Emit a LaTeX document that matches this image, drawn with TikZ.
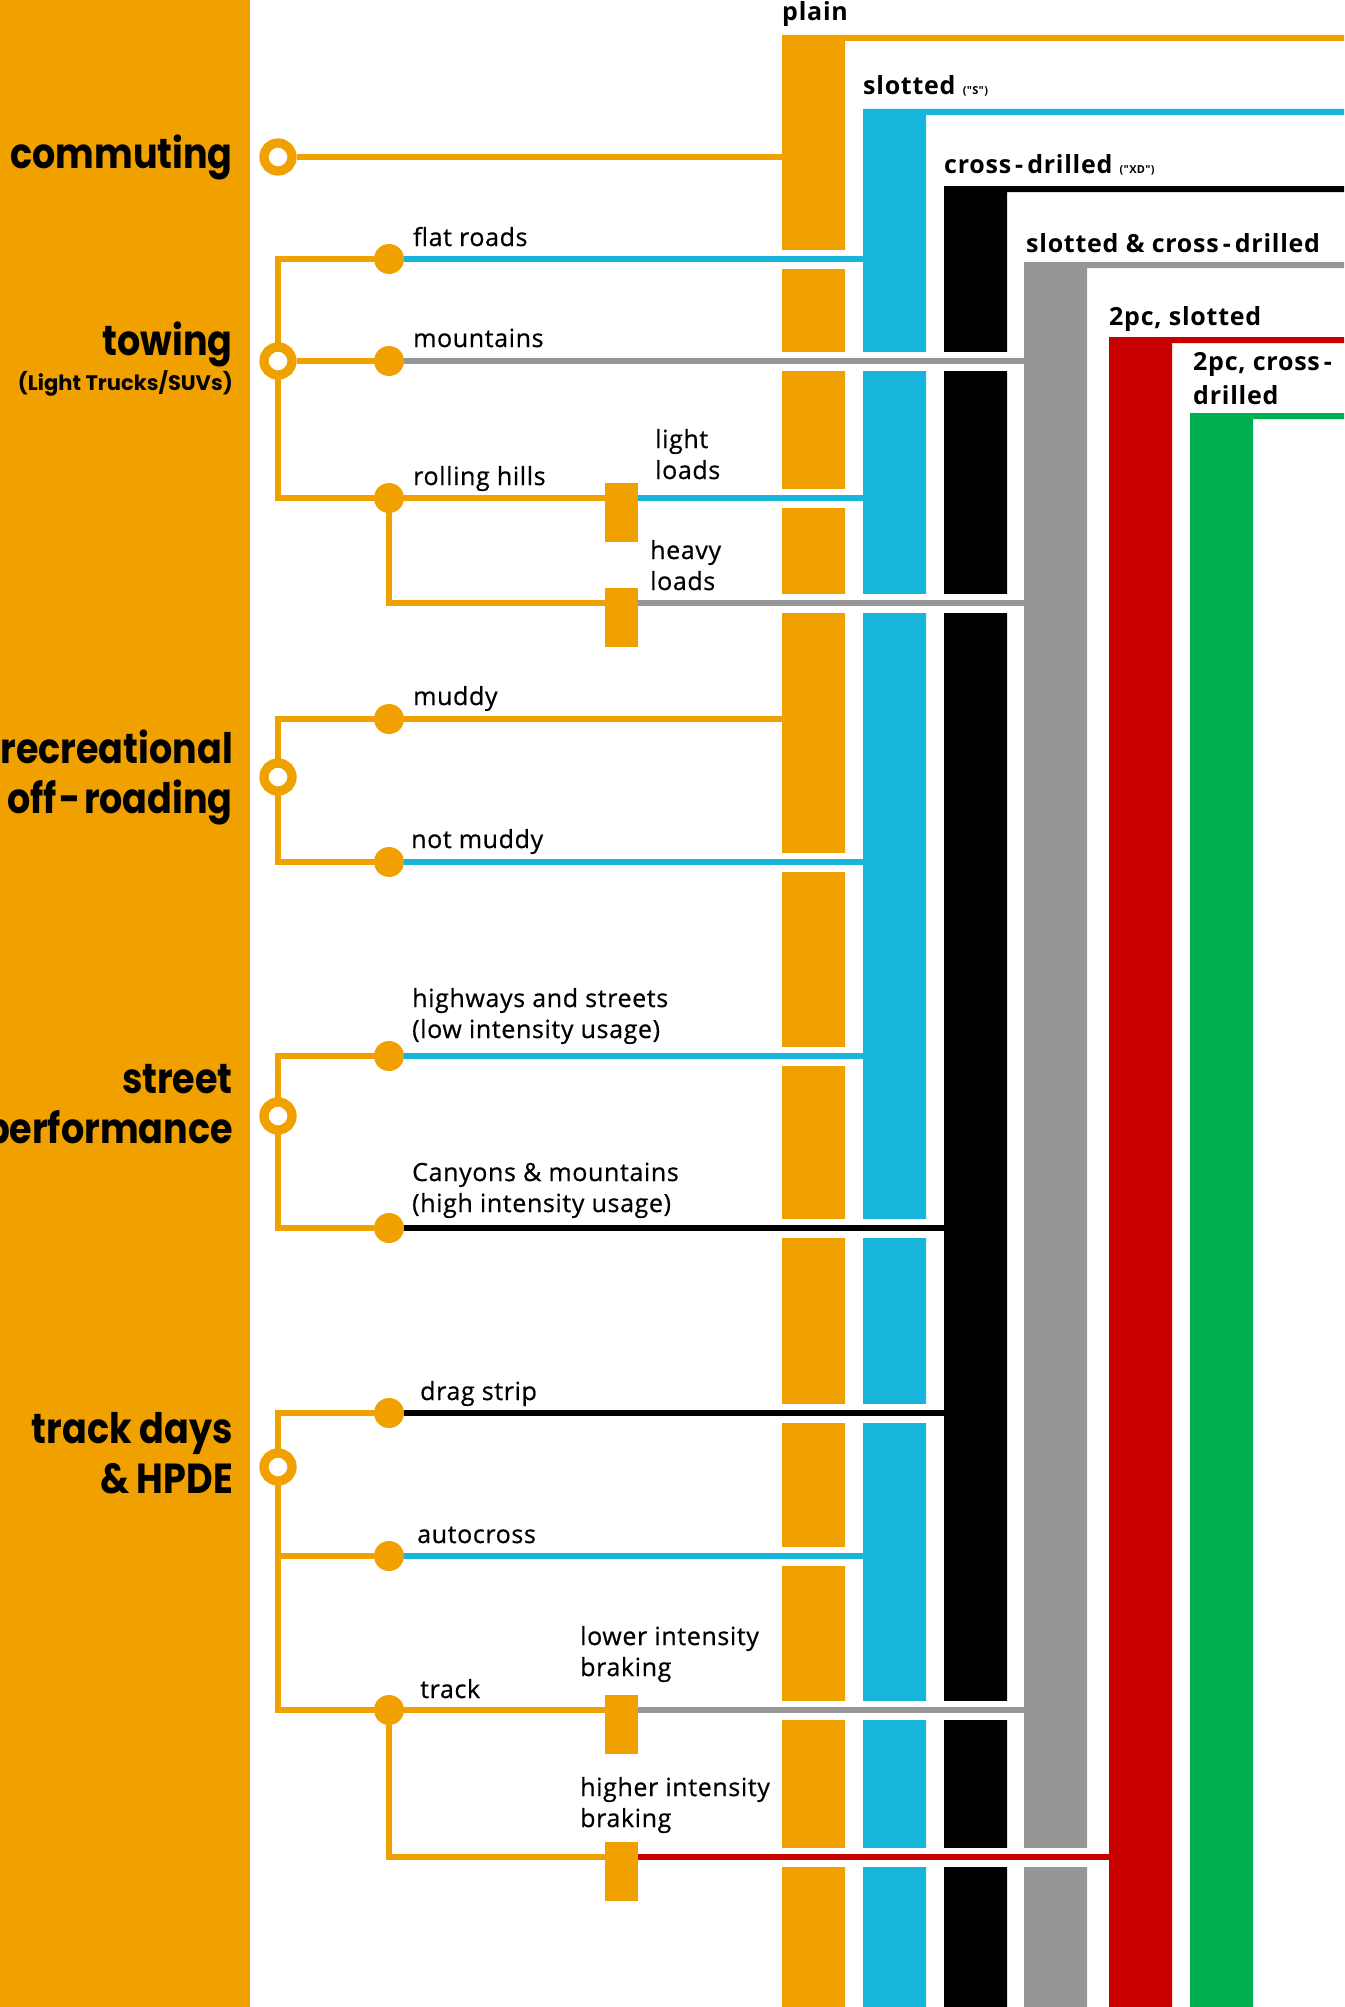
\documentclass[tikz,border=0pt]{standalone}
\usepackage{fontspec}
\setmainfont{Open Sans}
\newfontfamily\lblfont{Open Sans}[FakeBold=0.6, LetterSpace=2.5]
\newfontfamily\headfont{Open Sans}[LetterSpace=3]
\newfontfamily\grpfont{Poppins}[FakeStretch=0.87]
\newfontfamily\subfont{Poppins}
\definecolor{runorange}{RGB}{240,161,0}
\definecolor{runblue}{RGB}{23,180,220}
\definecolor{rungray}{RGB}{150,150,150}
\definecolor{runred}{RGB}{200,0,0}
\definecolor{rungreen}{RGB}{0,175,80}
\pgfdeclarelayer{background}
\pgfsetlayers{background,main}

\begin{document}
\begin{tikzpicture}[x=1pt, y=-1pt,
    hub/.style={circle, draw=runorange, line width=9.3pt, fill=white, minimum size=28pt, inner sep=0pt},
    dot/.style={circle, fill=runorange, minimum size=30pt, inner sep=0pt},
    box/.style={rectangle, fill=runorange, minimum width=33pt, minimum height=59pt, inner sep=0pt},
    feed/.style={draw=runorange, line width=6pt},
    lane/.style={draw=#1, line width=6pt, preaction={draw=white, line width=19pt}},
    lbl/.style={anchor=base west, inner sep=0pt, align=left, font=\lblfont\fontsize{25}{31}\selectfont},
    head/.style={anchor=base west, inner sep=0pt, align=left, font=\headfont\bfseries\fontsize{25}{34}\selectfont},
    grp/.style={anchor=base east, inner sep=0pt, align=right, font=\grpfont\bfseries\fontsize{42}{50}\selectfont}]

     \useasboundingbox (0, 0) rectangle (1344, 2007);

     \coordinate (plain) at (782, 0);
     \coordinate (slotted) at (863, 0);
     \coordinate (xd) at (944, 0);
     \coordinate (sxd) at (1024, 0);
     \coordinate (twoslot) at (1109, 0);
     \coordinate (twoxd) at (1190, 0);

     \node (commuting) at (278, 157) [hub] {};
     \node (towing) at (278, 361) [hub] {};
     \node (recreational) at (278, 777) [hub] {};
     \node (street) at (278, 1116) [hub] {};
     \node (trackdays) at (278, 1467) [hub] {};

     \node (flat) at (389, 259) [dot] {};
     \node (mountains) at (389, 361) [dot] {};
     \node (rolling) at (389, 498) [dot] {};
     \node (muddy) at (389, 719) [dot] {};
     \node (notmuddy) at (389, 862) [dot] {};
     \node (highways) at (389, 1056) [dot] {};
     \node (canyons) at (389, 1228) [dot] {};
     \node (drag) at (389, 1413) [dot] {};
     \node (autocross) at (389, 1556) [dot] {};
     \node (track) at (389, 1710) [dot] {};

     \coordinate (heavy) at (605, 603);
     \coordinate (higher) at (605, 1857);
     \node (lightbox) at (621.5, 512.5) [box] {};
     \node (heavybox) at (621.5, 617.5) [box] {};
     \node (lowerbox) at (621.5, 1724.5) [box] {};
     \node (higherbox) at (621.5, 1871.5) [box] {};

     \begin{pgfonlayer}{background}
     \fill [runorange] (0, 0) rectangle (250, 2007);

     \fill [runorange] (782, 2007) |- (1344, 35) |- (845, 41) -- (845, 2007) -- cycle;
     \fill [runblue] (863, 2007) |- (1344, 109) |- (926, 115) -- (926, 2007) -- cycle;
     \fill [black] (944, 2007) |- (1344, 186) |- (1007, 192) -- (1007, 2007) -- cycle;
     \fill [rungray] (1024, 2007) |- (1344, 262) |- (1087, 268) -- (1087, 2007) -- cycle;
     \fill [runred] (1109, 2007) |- (1344, 337) |- (1172, 343) -- (1172, 2007) -- cycle;
     \fill [rungreen] (1190, 2007) |- (1344, 413) |- (1253, 419) -- (1253, 2007) -- cycle;

     \draw [lane=runblue] (flat) -- (flat -| slotted);
     \draw [lane=rungray] (mountains) -- (mountains -| sxd);
     \draw [lane=runblue] (rolling -| lightbox.east) -- (rolling -| slotted);
     \draw [lane=rungray] (heavy -| heavybox.east) -- (heavy -| sxd);
     \draw [lane=runorange] (muddy) -- (muddy -| plain);
     \draw [lane=runblue] (notmuddy) -- (notmuddy -| slotted);
     \draw [lane=runblue] (highways) -- (highways -| slotted);
     \draw [lane=black] (canyons) -- (canyons -| xd);
     \draw [lane=black] (drag) -- (drag -| xd);
     \draw [lane=runblue] (autocross) -- (autocross -| slotted);
     \draw [lane=rungray] (track -| lowerbox.east) -- (track -| sxd);
     \draw [lane=runred] (higher -| higherbox.east) -- (higher -| twoslot);

     \draw [feed] (commuting) -- (commuting -| plain);
     \draw [feed] (flat) -- (flat -| towing) -- (rolling -| towing) -- (rolling);
     \draw [feed] (towing) -- (mountains);
     \draw [feed] (rolling) -- (rolling -| lightbox.west);
     \draw [feed] (rolling) |- (heavy);
     \draw [feed] (muddy) -- (muddy -| recreational) -- (notmuddy -| recreational) -- (notmuddy);
     \draw [feed] (highways) -- (highways -| street) -- (canyons -| street) -- (canyons);
     \draw [feed] (drag) -- (drag -| trackdays) -- (track -| trackdays) -- (track);
     \draw [feed] (autocross) -- (autocross -| trackdays);
     \draw [feed] (track) -- (track -| lowerbox.west);
     \draw [feed] (track) |- (higher);
     \end{pgfonlayer}

     \node (commutinglbl) at (233, 168) [grp] {commuting};
     \node (towinglbl) at (233, 355) [grp] {towing};
     \node (towingsub) at (233, 390) [grp, font=\subfont\bfseries\fontsize{21}{25}\selectfont] {(Light Trucks/SUVs)};
     \node (recreationallbl) at (233, 813) [grp] {recreational\\off\kern3pt-\kern3pt roading};
     \node (streetlbl) at (233, 1143) [grp] {street\\performance};
     \node (trackdayslbl) at (233, 1493) [grp] {track days\\\& HPDE};

     \node (flatlbl) at (413, 246) [lbl] {flat roads};
     \node (mountainslbl) at (413, 347) [lbl] {mountains};
     \node (rollinglbl) at (413, 485) [lbl] {rolling hills};
     \node (lightlbl) at (655, 479) [lbl] {light\\loads};
     \node (heavylbl) at (650, 590) [lbl] {heavy\\loads};
     \node (muddylbl) at (413, 705) [lbl] {muddy};
     \node (notmuddylbl) at (411, 848) [lbl] {not muddy};
     \node (highwayslbl) at (412, 1038) [lbl] {highways and streets\\(low intensity usage)};
     \node (canyonslbl) at (412, 1212) [lbl] {Canyons \& mountains\\(high intensity usage)};
     \node (draglbl) at (420, 1400) [lbl] {drag strip};
     \node (autocrosslbl) at (417, 1543) [lbl] {autocross};
     \node (tracklbl) at (420, 1698) [lbl] {track};
     \node (lowerlbl) at (580, 1676) [lbl] {lower intensity\\braking};
     \node (higherlbl) at (580, 1827) [lbl] {higher intensity\\braking};

     \node (plainlbl) at (782, 21) [head] {plain};
     \node (slottedlbl) at (863, 95) [head] {slotted {\fontsize{11}{13}\selectfont ("S")}};
     \node (xdlbl) at (944, 173) [head] {cross\kern4pt-\kern4pt drilled {\fontsize{11}{13}\selectfont ("XD")}};
     \node (sxdlbl) at (1026, 252) [head] {slotted \& cross\kern4pt-\kern4pt drilled};
     \node (twoslotlbl) at (1109, 325) [head] {2pc, slotted};
     \node (twoxdlbl) at (1193, 404) [head] {2pc, cross\kern4pt-\\drilled};

 \end{tikzpicture}
\end{document}
